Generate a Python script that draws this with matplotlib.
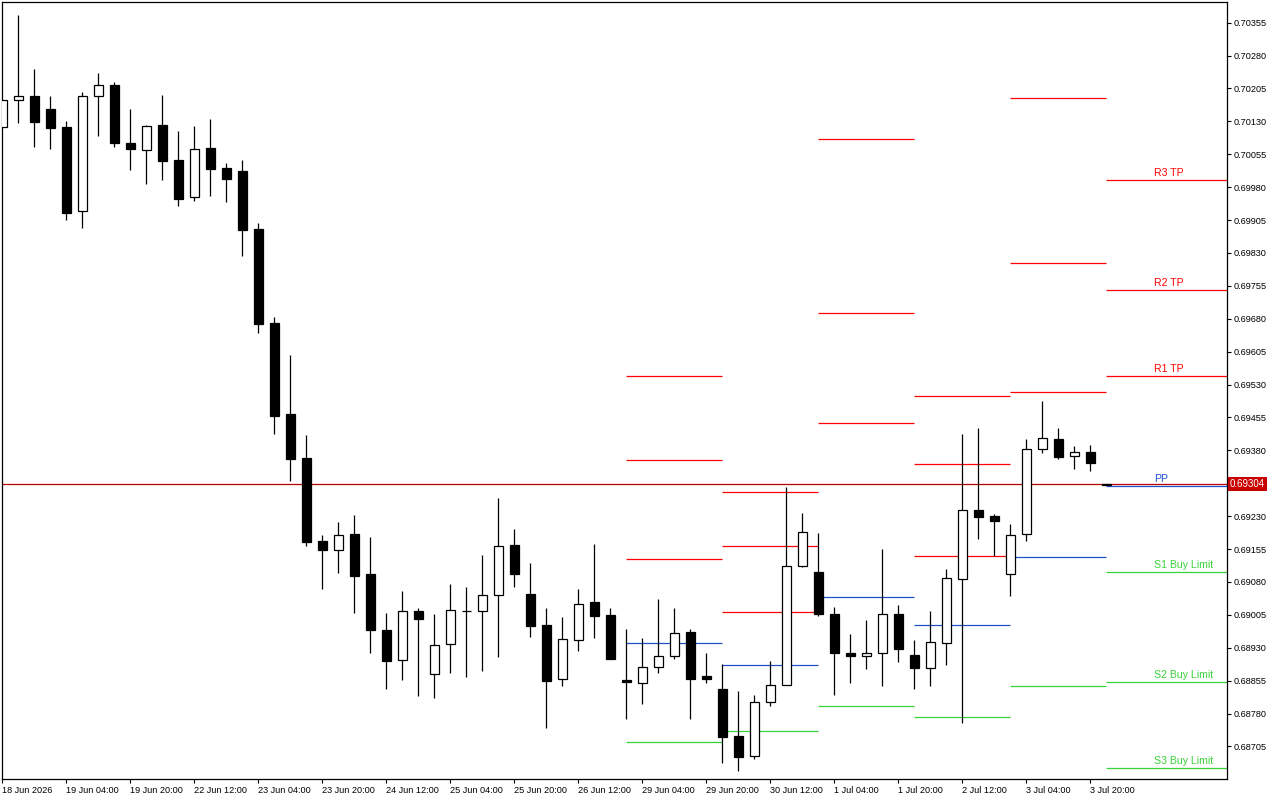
import matplotlib
matplotlib.use('Agg')
from matplotlib import pyplot as plt
from matplotlib.patches import Rectangle
import matplotlib.transforms as mtransforms

# H4 bars, oldest first (bar 0 = 18 Jun 12:00)
opens = [0.70117, 0.70178, 0.70187, 0.70158, 0.70117, 0.69925, 0.70187, 0.70212, 0.70080, 0.70064,
         0.70121, 0.70041, 0.69957, 0.70069, 0.70023, 0.70016, 0.69885, 0.69670, 0.69463, 0.69363,
         0.69174, 0.69152, 0.69189, 0.69098, 0.68971, 0.68902, 0.69013, 0.68870, 0.68938, 0.69013,
         0.69013, 0.69050, 0.69164, 0.69052, 0.68981, 0.68858, 0.68947, 0.69034, 0.69005, 0.68857,
         0.68849, 0.68886, 0.68911, 0.68965, 0.68865, 0.68835, 0.68728, 0.68683, 0.68806, 0.68845,
         0.69116, 0.69102, 0.69007, 0.68918, 0.68912, 0.68917, 0.69007, 0.68914, 0.68885, 0.68942,
         0.69086, 0.69244, 0.69230, 0.69098, 0.69189, 0.69383, 0.69405, 0.69368, 0.69376, 0.69300]
highs = [0.70180, 0.70373, 0.70249, 0.70187, 0.70131, 0.70196, 0.70240, 0.70220, 0.70158, 0.70122,
         0.70190, 0.70108, 0.70120, 0.70136, 0.70035, 0.70042, 0.69898, 0.69683, 0.69598, 0.69415,
         0.69187, 0.69217, 0.69233, 0.69183, 0.69009, 0.69060, 0.69021, 0.69007, 0.69075, 0.69069,
         0.69142, 0.69272, 0.69201, 0.69123, 0.69021, 0.69000, 0.69064, 0.69167, 0.69021, 0.68973,
         0.68952, 0.69041, 0.69021, 0.68973, 0.68918, 0.68893, 0.68832, 0.68822, 0.68899, 0.69297,
         0.69237, 0.69192, 0.69023, 0.68962, 0.68993, 0.69155, 0.69028, 0.68948, 0.69014, 0.69110,
         0.69417, 0.69431, 0.69235, 0.69212, 0.69406, 0.69493, 0.69430, 0.69389, 0.69392, 0.69304]
lows = [0.70115, 0.70127, 0.70072, 0.70068, 0.69906, 0.69888, 0.70097, 0.70072, 0.70020, 0.69988,
        0.69997, 0.69936, 0.69949, 0.69961, 0.69947, 0.69824, 0.69648, 0.69418, 0.69311, 0.69163,
        0.69065, 0.69101, 0.69010, 0.68919, 0.68837, 0.68857, 0.68821, 0.68816, 0.68873, 0.68864,
        0.68876, 0.68908, 0.69069, 0.68955, 0.68748, 0.68844, 0.68923, 0.68953, 0.68904, 0.68768,
        0.68803, 0.68873, 0.68905, 0.68768, 0.68850, 0.68668, 0.68648, 0.68676, 0.68798, 0.68845,
        0.69114, 0.69003, 0.68823, 0.68850, 0.68882, 0.68844, 0.68898, 0.68837, 0.68844, 0.68891,
        0.68759, 0.69179, 0.69139, 0.69047, 0.69174, 0.69373, 0.69361, 0.69338, 0.69334, 0.69300]
closes = [0.70178, 0.70187, 0.70129, 0.70116, 0.69922, 0.70187, 0.70212, 0.70081, 0.70068, 0.70119,
          0.70040, 0.69952, 0.70066, 0.70022, 0.69999, 0.69883, 0.69667, 0.69459, 0.69361, 0.69172,
          0.69154, 0.69187, 0.69094, 0.68971, 0.68901, 0.69013, 0.68996, 0.68936, 0.69016, 0.69013,
          0.69050, 0.69161, 0.69099, 0.68980, 0.68855, 0.68949, 0.69029, 0.69003, 0.68905, 0.68851,
          0.68886, 0.68911, 0.68963, 0.68860, 0.68860, 0.68727, 0.68682, 0.68806, 0.68845, 0.69116,
          0.69193, 0.69008, 0.68917, 0.68912, 0.68918, 0.69007, 0.68928, 0.68885, 0.68943, 0.69089,
          0.69244, 0.69229, 0.69218, 0.69187, 0.69383, 0.69408, 0.69366, 0.69376, 0.69352, 0.69304]

current_price = 0.69304

# daily pivot levels, one entry per day (29 Jun .. 4 Jul)
day_start = [39, 45, 51, 57, 63, 69]
day_end = [45, 51, 57, 63, 69, 78]
r3 = [0.69550, 0.69285, 0.70090, 0.69504, 0.70183, 0.69996]
r2 = [0.69358, 0.69161, 0.69693, 0.69348, 0.69807, 0.69745]
r1 = [0.69132, 0.69011, 0.69442, 0.69139, 0.69512, 0.69549]
pp = [0.68940, 0.68890, 0.69045, 0.68981, 0.69136, 0.69298]
s1 = [0.68715, 0.68740, 0.68797, 0.68772, 0.68842, 0.69102]
s2 = [None, None, None, None, None, 0.68851]
s3 = [None, None, None, None, None, 0.68655]
level_names = ['R3 TP', 'R2 TP', 'R1 TP', 'PP', 'S1 Buy Limit', 'S2 Buy Limit', 'S3 Buy Limit']

xtick_bars = [0, 4, 8, 12, 16, 20, 24, 28, 32, 36, 40, 44, 48, 52, 56, 60, 64, 68]
xtick_labels = ['18 Jun 2026', '19 Jun 04:00', '19 Jun 20:00', '22 Jun 12:00', '23 Jun 04:00',
                '23 Jun 20:00', '24 Jun 12:00', '25 Jun 04:00', '25 Jun 20:00', '26 Jun 12:00',
                '29 Jun 04:00', '29 Jun 20:00', '30 Jun 12:00', '1 Jul 04:00', '1 Jul 20:00',
                '2 Jul 12:00', '3 Jul 04:00', '3 Jul 20:00']
ytick_values = [0.70355, 0.70280, 0.70205, 0.70130, 0.70055, 0.69980, 0.69905, 0.69830,
                0.69755, 0.69680, 0.69605, 0.69530, 0.69455, 0.69380, 0.69230, 0.69155,
                0.69080, 0.69005, 0.68930, 0.68855, 0.68780, 0.68705]

RED = '#ff0000'
BLUE = '#1f50c8'
GREEN = '#3ad23a'
axis_font = ['Liberation Sans', 'DejaVu Sans']
axis_size = 6.6

fig = plt.figure(figsize=(12.8, 8), dpi=100)
ax = fig.add_axes([2.3 / 1280, 21 / 800, 1225 / 1280, 776.7 / 800])

# candles
body_w = 0.6
for i in range(len(opens)):
    o, h, l, c = opens[i], highs[i], lows[i], closes[i]
    ax.vlines(i, l, h, color='black', lw=0.9, zorder=3)
    bottom = min(o, c)
    face = 'white' if c >= o else 'black'
    ax.add_patch(Rectangle((i - body_w / 2, bottom), body_w, abs(c - o),
                           facecolor=face, edgecolor='black', lw=0.9, zorder=4))

# pivot segments
levels = [r3, r2, r1, pp, s1, s2, s3]
colors = [RED, RED, RED, BLUE, GREEN, GREEN, GREEN]
for lv, col in zip(levels, colors):
    for d in range(len(day_start)):
        if lv[d] is None:
            continue
        ax.hlines(lv[d], day_start[d], day_end[d], color=col, lw=0.9, zorder=2)

# labels of the current day's levels
label_x = 72
for lv, col, name in zip(levels, colors, level_names):
    ax.annotate(name, (label_x, lv[-1]), xytext=(0, 3), textcoords='offset points',
                ha='left', va='baseline', color=col, fontsize=7.6,
                family=['Liberation Sans', 'DejaVu Sans'], zorder=5)

# current price line + box
ax.axhline(current_price, color='#b80000', lw=0.9, zorder=2)
trans = mtransforms.blended_transform_factory(ax.transAxes, ax.transData)
ax.text(1.002, current_price, '%.5f' % current_price, transform=trans, ha='left', va='center',
        color='white', fontsize=axis_size + 0.4, family=axis_font, clip_on=False,
        bbox=dict(boxstyle='square,pad=0.2', facecolor='#c80000', edgecolor='none'))

ax.set_xlim(0, 76.56)
ax.set_ylim(0.686309, 0.704015)

ax.set_xticks(xtick_bars)
ax.set_xticklabels(xtick_labels)
for lab in ax.get_xticklabels():
    lab.set_horizontalalignment('left')
    lab.set_family(axis_font)
    lab.set_fontsize(axis_size)

ax.yaxis.tick_right()
ax.set_yticks(ytick_values)
ax.set_yticklabels(['%.5f' % v for v in ytick_values])
for lab in ax.get_yticklabels():
    lab.set_family(axis_font)
    lab.set_fontsize(axis_size)

ax.tick_params(axis='x', direction='out', length=3, width=0.8, pad=2)
ax.tick_params(axis='y', direction='out', length=3, width=0.8, pad=1.5)
for sp in ax.spines.values():
    sp.set_linewidth(0.9)
    sp.set_color('black')

fig.savefig('out.png', dpi=100)
